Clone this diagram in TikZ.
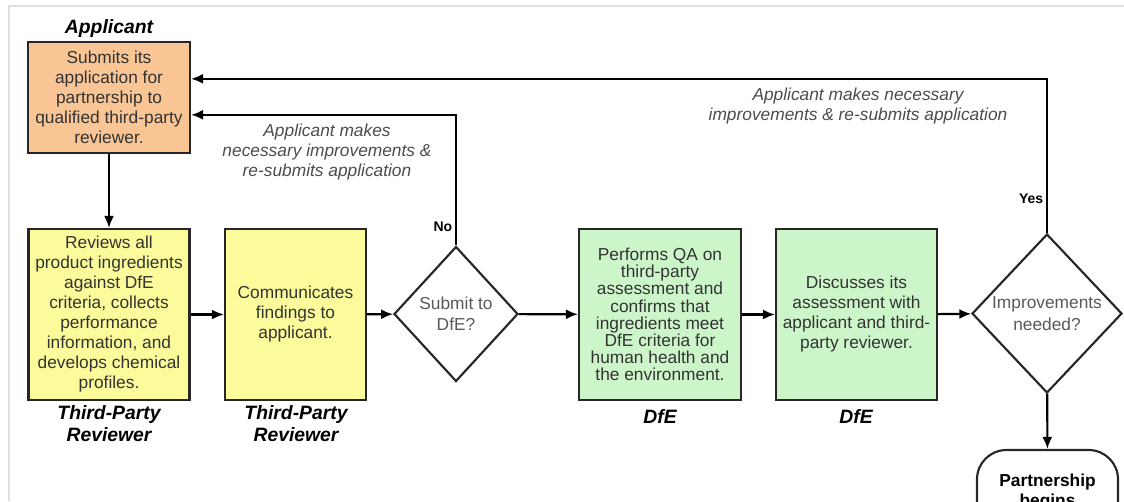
\documentclass[tikz,border=0pt]{standalone}
\usepackage{fontspec}
\setmainfont{Liberation Sans}
\usetikzlibrary{shapes.geometric,arrows.meta}
\definecolor{appfill}{HTML}{F9C594}
\definecolor{revfill}{HTML}{FBFB9C}
\definecolor{dfefill}{HTML}{CCF5C9}
\begin{document}
\begin{tikzpicture}[x=.75pt,y=-.75pt,
procbox/.style={draw=black!85,line width=1.6pt,align=center,inner sep=1pt,text=black!80,font=\fontsize{13}{15}\selectfont,minimum height=128.25pt},
decide/.style={diamond,draw=black!85,line width=1.6pt,align=center,inner sep=0pt,text=black!65,font=\fontsize{13}{16}\selectfont},
role/.style={align=center,font=\fontsize{14.5}{16.5}\selectfont\bfseries\itshape},
note/.style={align=center,text=black!70,font=\fontsize{13}{15}\selectfont\itshape},
yn/.style={font=\fontsize{10.5}{12}\selectfont\bfseries,inner sep=2pt},
arr/.style={line width=1.6pt,-{Latex[length=9pt,width=7.5pt]}}]
\useasboundingbox(0,0)rectangle(1124,501);
\draw[gray!25,line width=1pt](9,501)--(9,6)--(1124,6);
\node[procbox,fill=appfill,minimum width=121.5pt,minimum height=83.25pt](app)at(109,97.5){Submits its\\application for\\partnership to\\qualified third-party\\reviewer.};
\node[procbox,fill=revfill,minimum width=120.75pt](rev)at(109,314.5){Reviews all\\product ingredients\\against DfE\\criteria, collects\\performance\\information, and\\develops chemical\\profiles.};
\node[procbox,fill=revfill,minimum width=105.75pt](comm)at(295.5,314.5){Communicates\\findings to\\applicant.};
\node[decide,minimum width=93pt,minimum height=101.25pt](sub)at(456,314){Submit to\\DfE?};
\node[procbox,fill=dfefill,minimum width=121.5pt,font=\fontsize{13}{12.9}\selectfont](qa)at(660,314.5){Performs QA on\\third-party\\assessment and\\confirms that\\ingredients meet\\DfE criteria for\\human health and\\the environment.};
\node[procbox,fill=dfefill,minimum width=120.75pt](disc)at(856.5,314.5){Discusses its\\assessment with\\applicant and third-\\party reviewer.};
\node[decide,minimum width=112.5pt,minimum height=119.25pt](imp)at(1047,313.5){Improvements\\needed?};
\node[draw=black!85,line width=1.6pt,rounded corners=22pt,minimum width=105.75pt,minimum height=63pt,align=center,font=\fontsize{13}{15}\selectfont\bfseries](part)at(1047.5,492){Partnership\\begins};
\node[role](appl)at(109,28){Applicant};
\node[role](tpra)at(109,424){Third-Party\\Reviewer};
\node[role](tprb)at(296,424){Third-Party\\Reviewer};
\node[role](dfea)at(660,416){DfE};
\node[role](dfeb)at(856,416){DfE};
\node[note](loopa)at(327,152){Applicant makes\\necessary improvements \&\\re-submits application};
\node[note](loopb)at(858,106){Applicant makes necessary\\improvements \& re-submits application};
\draw[arr](app)--(rev);
\draw[arr](rev)--(comm);
\draw[arr](comm)--(sub);
\draw[arr](sub)--(qa);
\draw[arr](qa)--(disc);
\draw[arr](disc)--(imp);
\draw[arr](imp)--(part);
\draw[arr](sub.north)|-node[pos=.07,yn,left]{No}([yshift=-13pt]app.east);
\draw[arr](imp.north)|-node[pos=.11,yn,left]{Yes}([yshift=14pt]app.east);
\end{tikzpicture}
\end{document}
